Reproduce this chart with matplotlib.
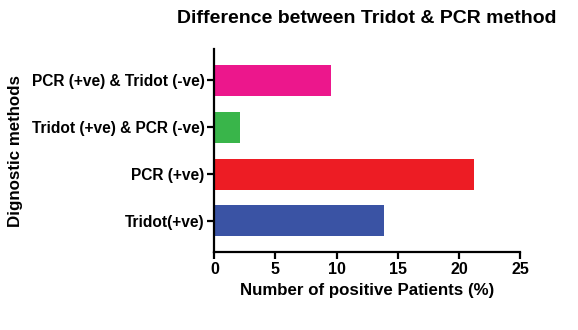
import matplotlib
matplotlib.use("Agg")
import matplotlib.pyplot as plt

categories = ["Tridot(+ve)", "PCR (+ve)", "Tridot (+ve) & PCR (-ve)", "PCR (+ve) & Tridot (-ve)"]
values = [13.9, 21.2, 2.1, 9.5]
colors = ["#3A53A4", "#ED1C24", "#39B54A", "#EC178C"]
xticks = [0, 5, 10, 15, 20, 25]

plt.rcParams['font.family'] = ['Liberation Sans', 'DejaVu Sans']
plt.rcParams['font.weight'] = 'bold'

fig = plt.figure(figsize=(5.78, 3.30), dpi=100)
ax = fig.add_axes([0.3708, 0.2355, 0.529, 0.616])
y = range(len(categories))
ax.barh(list(y), values, height=0.66, color=colors)
ax.set_xlim(0, 25)
ax.set_ylim(-0.67, 3.67)
ax.set_xticks(xticks)
ax.set_xticklabels([str(t) for t in xticks], fontsize=11.5, fontweight='bold')
ax.set_yticks(list(y))
ax.set_yticklabels(categories, fontsize=11.2, fontweight='bold')
for s in ['top', 'right']:
    ax.spines[s].set_visible(False)
for s in ['left', 'bottom']:
    ax.spines[s].set_linewidth(1.6)
ax.tick_params(axis='both', width=1.6, length=5, pad=2)
ax.set_xlabel("Number of positive Patients (%)", fontsize=12.2, fontweight='bold', labelpad=4)
ax.set_ylabel("Dignostic methods", fontsize=12.2, fontweight='bold', labelpad=6)
fig.text(0.635, 0.945, "Difference between Tridot & PCR method", ha='center', va='center',
         fontsize=14, fontweight='bold')
fig.savefig("out.png", dpi=100)
